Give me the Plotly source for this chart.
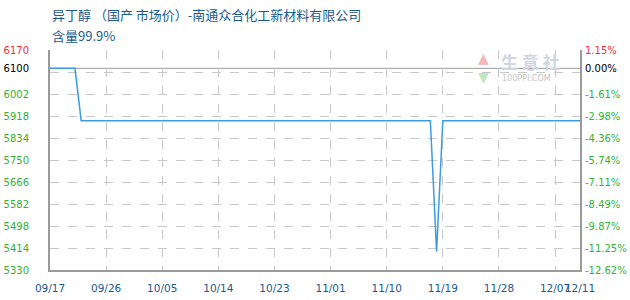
import plotly.graph_objects as go

# ---- data ----
dates = ["2024-09-17", "2024-09-21", "2024-09-22", "2024-11-17",
         "2024-11-18", "2024-11-19", "2024-12-11"]
prices = [6100, 6100, 5900, 5900, 5400, 5900, 5900]

x_tick_dates = ["2024-09-17", "2024-09-26", "2024-10-05", "2024-10-14",
                "2024-10-23", "2024-11-01", "2024-11-10", "2024-11-19",
                "2024-11-28", "2024-12-07", "2024-12-11"]
x_tick_text = ["09/17", "09/26", "10/05", "10/14", "10/23", "11/01",
               "11/10", "11/19", "11/28", "12/07", "12/11"]

y_grid_vals = [6170, 6086, 6002, 5918, 5834, 5750, 5666, 5582, 5498, 5414, 5330]
y_label_vals = [6170, 6100, 6002, 5918, 5834, 5750, 5666, 5582, 5498, 5414, 5330]
base_price = 6100
y_min, y_max = 5330, 6170

title1 = "异丁醇 （国产 市场价）-南通众合化工新材料有限公司"
title2 = "含量99.9%"

# ---- styles ----
RED = "#ee3333"
GREEN = "#33b233"
BLACK = "#000000"
BLUE_TXT = "#1a5a8c"
LINE = "#3b9ddd"
GRID = "#c8c8c8"
AXIS = "#9a9a9a"

W, H = 630, 300
ML, MR, MT, MB = 50, 50, 50, 30
PW, PH = W - ML - MR, H - MT - MB


def px_x(px):
    return (px - ML) / PW


def px_y(py):
    return (H - MB - py) / PH


def col(v):
    if v > base_price:
        return RED
    if v == base_price:
        return BLACK
    return GREEN


left_text = [f'<span style="color:{col(v)}">{v}</span>' for v in y_label_vals]
right_text = [f'<span style="color:{col(v)}">{(v / base_price - 1) * 100:.2f}%</span>'
              for v in y_label_vals]

fig = go.Figure()
fig.add_trace(go.Scatter(x=dates, y=prices, mode="lines",
                         line=dict(color=LINE, width=1.5),
                         hoverinfo="skip", showlegend=False))
# invisible helper traces so that label axes render
fig.add_trace(go.Scatter(x=dates, y=prices, mode="lines", yaxis="y2",
                         line=dict(width=0), opacity=0, hoverinfo="skip",
                         showlegend=False))
fig.add_trace(go.Scatter(x=dates, y=prices, mode="lines", yaxis="y3",
                         line=dict(width=0), opacity=0, hoverinfo="skip",
                         showlegend=False))

fig.update_layout(
    width=W, height=H,
    margin=dict(l=ML, r=MR, t=MT, b=MB, pad=0, autoexpand=False),
    paper_bgcolor="white", plot_bgcolor="white",
    font=dict(family="DejaVu Sans", size=10, color=BLACK),
    xaxis=dict(
        type="date", range=[x_tick_dates[0], x_tick_dates[-1]],
        tickmode="array", tickvals=x_tick_dates, ticktext=x_tick_text,
        tickangle=0, automargin=False,
        showgrid=True, gridcolor=GRID, griddash="dash", gridwidth=1,
        showline=True, linecolor=AXIS, linewidth=1.5,
        ticks="", ticklabelstandoff=8,
        tickfont=dict(family="DejaVu Sans", size=10.5, color=BLUE_TXT),
        zeroline=False, fixedrange=True,
    ),
    yaxis=dict(
        range=[y_min, y_max], tickmode="array", tickvals=y_grid_vals,
        showticklabels=False, showgrid=True, gridcolor=GRID,
        griddash="dash", gridwidth=1, automargin=False,
        showline=True, mirror=True, linecolor=AXIS, linewidth=1.5,
        ticks="", zeroline=False, fixedrange=True,
    ),
    yaxis2=dict(
        overlaying="y", side="left", range=[y_min, y_max],
        tickmode="array", tickvals=y_label_vals, ticktext=left_text,
        showgrid=False, zeroline=False, showline=False, ticks="",
        ticklabelstandoff=20, automargin=False,
        tickfont=dict(family="DejaVu Sans", size=10, color=GREEN),
        fixedrange=True,
    ),
    yaxis3=dict(
        overlaying="y", side="right", range=[y_min, y_max],
        tickmode="array", tickvals=y_label_vals, ticktext=right_text,
        showgrid=False, zeroline=False, showline=False, ticks="",
        ticklabelstandoff=4, automargin=False,
        tickfont=dict(family="DejaVu Sans", size=10, color=GREEN),
        fixedrange=True,
    ),
)

# reference line at base price
fig.add_shape(type="line", xref="paper", x0=0, x1=1, yref="y",
              y0=base_price, y1=base_price,
              line=dict(color=AXIS, width=1), layer="below")

# titles
fig.add_annotation(text=title1, xref="paper", yref="paper",
                   x=px_x(50), y=px_y(14), xanchor="left", yanchor="middle",
                   showarrow=False,
                   font=dict(family="Noto Sans CJK SC", size=13, color=BLUE_TXT))
fig.add_annotation(text=title2, xref="paper", yref="paper",
                   x=px_x(50), y=px_y(35), xanchor="left", yanchor="middle",
                   showarrow=False,
                   font=dict(family="Noto Sans CJK SC", size=13, color=BLUE_TXT))

# watermark
fig.add_annotation(text="▲", xref="paper", yref="paper", x=px_x(483), y=px_y(58),
                   showarrow=False, xanchor="center", yanchor="middle",
                   font=dict(size=14, color="#f4b8b8"))
fig.add_annotation(text="▼", xref="paper", yref="paper", x=px_x(483), y=px_y(77),
                   showarrow=False, xanchor="center", yanchor="middle",
                   font=dict(size=14, color="#bfe6bf"))
fig.add_annotation(text="<b>生 意 社</b>", xref="paper", yref="paper",
                   x=px_x(499), y=px_y(61), xanchor="left", yanchor="middle",
                   showarrow=False,
                   font=dict(family="Noto Sans CJK SC", size=17, color="#cfd6e2"))
fig.add_annotation(text="100PPI.COM", xref="paper", yref="paper",
                   x=px_x(500), y=px_y(78), xanchor="left", yanchor="middle",
                   showarrow=False,
                   font=dict(family="DejaVu Sans", size=8, color="#c4c4c4"))

fig.write_html("out.html")
